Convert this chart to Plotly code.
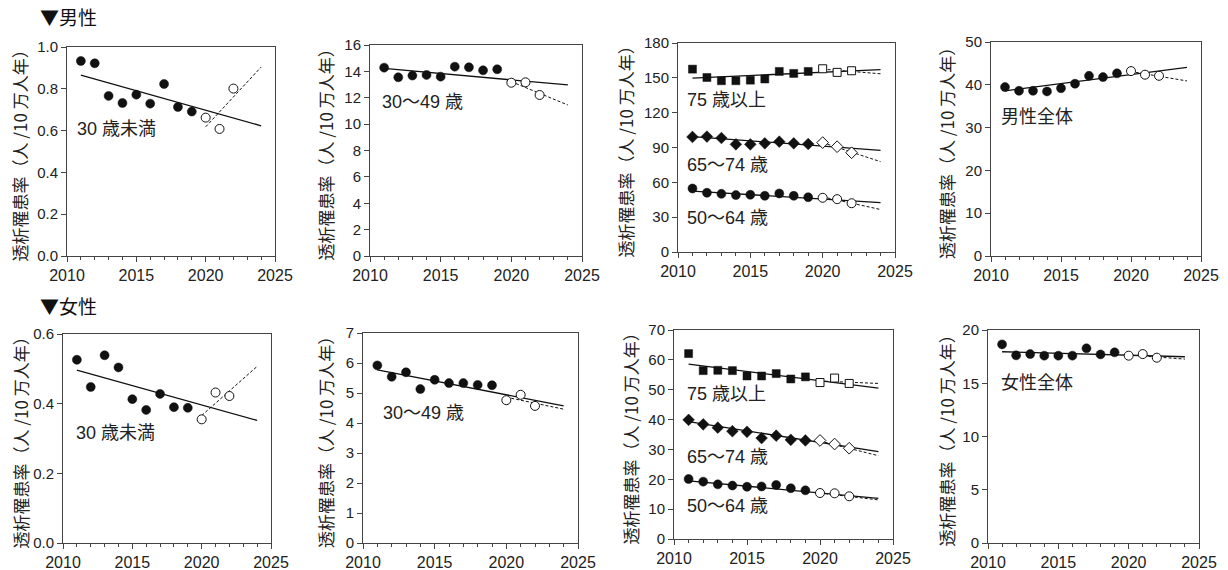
import plotly.graph_objects as go

W, H = 1228, 570

# ---------------- data ----------------
years = [2011, 2012, 2013, 2014, 2015, 2016, 2017, 2018, 2019, 2020, 2021, 2022]
fit_years = [2011, 2024]
dash_years = [2020, 2024]

# Male
m_u30 = [0.933, 0.922, 0.766, 0.732, 0.772, 0.729, 0.823, 0.713, 0.691, 0.662, 0.608, 0.801]
m_u30_fit = [0.865, 0.623]
m_u30_dash = [0.618, 0.904]

m_3049 = [14.28, 13.55, 13.68, 13.73, 13.60, 14.36, 14.31, 14.08, 14.16, 13.14, 13.17, 12.21]
m_3049_fit = [14.23, 12.97]
m_3049_dash = [13.22, 11.45]

m_75 = [157.5, 150.3, 147.5, 147.5, 148.0, 149.0, 155.5, 153.8, 155.5, 157.8, 154.7, 156.1]
m_75_fit = [149.8, 157.0]
m_75_dash = [157.5, 153.5]
m_6574 = [99.1, 99.4, 98.2, 92.7, 92.7, 93.6, 95.0, 93.6, 93.0, 94.2, 90.7, 85.5]
m_6574_fit = [99.4, 87.6]
m_6574_dash = [94.2, 77.8]
m_5064 = [54.7, 51.0, 50.1, 49.0, 49.3, 48.4, 50.4, 48.4, 47.2, 46.7, 45.5, 42.0]
m_5064_fit = [52.4, 42.6]
m_5064_dash = [47.5, 36.6]

m_all = [39.47, 38.6, 38.6, 38.45, 39.2, 40.25, 42.1, 41.8, 42.67, 43.2, 42.36, 42.1]
m_all_fit = [38.6, 44.07]
m_all_dash = [43.1, 40.9]

# Female
f_u30 = [0.526, 0.448, 0.539, 0.504, 0.413, 0.382, 0.428, 0.390, 0.388, 0.355, 0.432, 0.422]
f_u30_fit = [0.496, 0.352]
f_u30_dash = [0.366, 0.507]

f_3049 = [5.92, 5.54, 5.69, 5.13, 5.44, 5.33, 5.33, 5.27, 5.26, 4.76, 4.94, 4.57]
f_3049_fit = [5.77, 4.57]
f_3049_dash = [4.86, 4.46]

f_75 = [62.1, 56.4, 56.5, 56.4, 54.6, 54.6, 55.4, 53.6, 54.3, 52.4, 53.9, 52.1]
f_75_fit = [58.6, 50.5]
f_75_dash = [52.9, 52.1]
f_6574 = [39.9, 38.4, 37.3, 36.1, 35.9, 33.8, 34.6, 33.2, 33.0, 33.0, 31.8, 30.4]
f_6574_fit = [39.3, 29.25]
f_6574_dash = [32.8, 27.9]
f_5064 = [20.1, 19.2, 18.3, 17.9, 17.5, 17.6, 18.1, 17.0, 16.3, 15.4, 15.3, 14.3]
f_5064_fit = [19.5, 13.6]
f_5064_dash = [15.4, 13.1]

f_all = [18.65, 17.62, 17.74, 17.59, 17.59, 17.59, 18.28, 17.71, 17.9, 17.59, 17.74, 17.4]
f_all_fit = [17.96, 17.49]
f_all_dash = [17.65, 17.27]

y_title = "透析罹患率（人 /10 万人年）"
section_titles = ["▼男性", "▼女性"]

# ---------------- layout helpers ----------------
FONT = "Liberation Sans, Arial, Noto Sans CJK JP, sans-serif"
CJK = "Noto Sans CJK JP, Liberation Sans, sans-serif"

panels = [
    dict(box=(67, 275, 47, 256), yr=(0, 1.0), dt=0.2, fmt=".1f",
         series=[("circle", m_u30, m_u30_fit, m_u30_dash, 9)],
         labels=[("30 歳未満", 2010.55, 0.61)], tx=19),
    dict(box=(370, 582, 45, 256), yr=(0, 16), dt=2, fmt="d",
         series=[("circle", m_3049, m_3049_fit, m_3049_dash, 9)],
         labels=[("30〜49 歳", 2010.7, 11.65)], tx=325),
    dict(box=(678, 895, 43, 252), yr=(0, 180), dt=30, fmt="d",
         series=[("square", m_75, m_75_fit, m_75_dash, 8),
                 ("diamond", m_6574, m_6574_fit, m_6574_dash, 9),
                 ("circle", m_5064, m_5064_fit, m_5064_dash, 9)],
         labels=[("75 歳以上", 2010.5, 130.5), ("65〜74 歳", 2010.5, 74.6), ("50〜64 歳", 2010.5, 29.7)], tx=625),
    dict(box=(991, 1201, 42, 256), yr=(0, 50), dt=10, fmt="d",
         series=[("circle", m_all, m_all_fit, m_all_dash, 9)],
         labels=[("男性全体", 2010.57, 32.4)], tx=946),
    dict(box=(63, 271, 334, 543), yr=(0, 0.6), dt=0.2, fmt=".1f",
         series=[("circle", f_u30, f_u30_fit, f_u30_dash, 9)],
         labels=[("30 歳未満", 2010.77, 0.315)], tx=20),
    dict(box=(363, 578, 333, 543), yr=(0, 7), dt=1, fmt="d",
         series=[("circle", f_3049, f_3049_fit, f_3049_dash, 9)],
         labels=[("30〜49 歳", 2011.25, 4.35)], tx=326),
    dict(box=(674, 893, 330, 539), yr=(0, 70), dt=10, fmt="d",
         series=[("square", f_75, f_75_fit, f_75_dash, 8),
                 ("diamond", f_6574, f_6574_fit, f_6574_dash, 9),
                 ("circle", f_5064, f_5064_fit, f_5064_dash, 9)],
         labels=[("75 歳以上", 2010.73, 48.5), ("65〜74 歳", 2010.73, 27.6), ("50〜64 歳", 2010.73, 11.2)], tx=630),
    dict(box=(988, 1199, 330, 543), yr=(0, 20), dt=5, fmt="d",
         series=[("circle", f_all, f_all_fit, f_all_dash, 9)],
         labels=[("女性全体", 2010.8, 15.0)], tx=946),
]

fig = go.Figure()
layout = {}
annotations = []
N_FILLED = 9

for i, p in enumerate(panels, start=1):
    xa = "x" if i == 1 else f"x{i}"
    ya = "y" if i == 1 else f"y{i}"
    x0, x1, yt, yb = p["box"]
    dom_x = [x0 / W, x1 / W]
    dom_y = [1 - yb / H, 1 - yt / H]
    layout[f"xaxis{i}" if i > 1 else "xaxis"] = dict(
        domain=dom_x, anchor=ya, range=[2010, 2025], dtick=5, tick0=2010, automargin=False,
        showgrid=False, zeroline=False, showline=True, mirror=True,
        linecolor="#444", linewidth=1, ticks="outside", ticklen=5, tickcolor="#444",
        minor=dict(dtick=1, ticks="outside", ticklen=3, tickcolor="#444", showgrid=False),
        tickfont=dict(size=16, color="#222", family=FONT), fixedrange=True,
    )
    layout[f"yaxis{i}" if i > 1 else "yaxis"] = dict(
        domain=dom_y, anchor=xa, range=list(p["yr"]), dtick=p["dt"], tick0=0, automargin=False,
        tickformat=p["fmt"], showgrid=False, zeroline=False, showline=True, mirror=True,
        linecolor="#444", linewidth=1, ticks="outside", ticklen=5, tickcolor="#444",
        tickfont=dict(size=15, color="#222", family=FONT), fixedrange=True,
    )
    for sym, vals, fit, dash, ms in p["series"]:
        fig.add_trace(go.Scatter(x=fit_years, y=fit, mode="lines", xaxis=xa, yaxis=ya,
                                 line=dict(color="#111", width=1.3), showlegend=False, hoverinfo="skip"))
        fig.add_trace(go.Scatter(x=dash_years, y=dash, mode="lines", xaxis=xa, yaxis=ya,
                                 line=dict(color="#111", width=1, dash="3px,2px"), showlegend=False, hoverinfo="skip"))
        fig.add_trace(go.Scatter(x=years[:N_FILLED], y=vals[:N_FILLED], mode="markers", xaxis=xa, yaxis=ya,
                                 marker=dict(symbol=sym, size=ms, color="#111", line=dict(color="#111", width=0.5)),
                                 showlegend=False))
        fig.add_trace(go.Scatter(x=years[N_FILLED:], y=vals[N_FILLED:], mode="markers", xaxis=xa, yaxis=ya,
                                 marker=dict(symbol=sym, size=ms, color="white", line=dict(color="#111", width=1)),
                                 showlegend=False))
    for text, lx, ly in p["labels"]:
        annotations.append(dict(text=text, x=lx, y=ly, xref=xa, yref=ya, xanchor="left", yanchor="middle",
                                showarrow=False, font=dict(size=18, color="#222", family=FONT)))
    annotations.append(dict(text=y_title, x=p["tx"] / W, y=(dom_y[0] + dom_y[1]) / 2, xref="paper", yref="paper",
                            xanchor="center", yanchor="middle", textangle=-90, showarrow=False,
                            font=dict(size=17, color="#222", family=CJK)))

annotations.append(dict(text=section_titles[0], x=38 / W, y=1 - 17 / H, xref="paper", yref="paper",
                        xanchor="left", yanchor="middle", showarrow=False,
                        font=dict(size=19, color="#111", family=CJK)))
annotations.append(dict(text=section_titles[1], x=38 / W, y=1 - 305 / H, xref="paper", yref="paper",
                        xanchor="left", yanchor="middle", showarrow=False,
                        font=dict(size=19, color="#111", family=CJK)))

fig.update_layout(**layout)
fig.update_layout(template="none", width=W, height=H, margin=dict(l=0, r=0, t=0, b=0, pad=0), autosize=False,
                  paper_bgcolor="white", plot_bgcolor="white", annotations=annotations,
                  showlegend=False)
fig.write_html("out.html", config={"displayModeBar": False},
               post_script="document.body.style.margin='0';document.body.style.padding='0';")
